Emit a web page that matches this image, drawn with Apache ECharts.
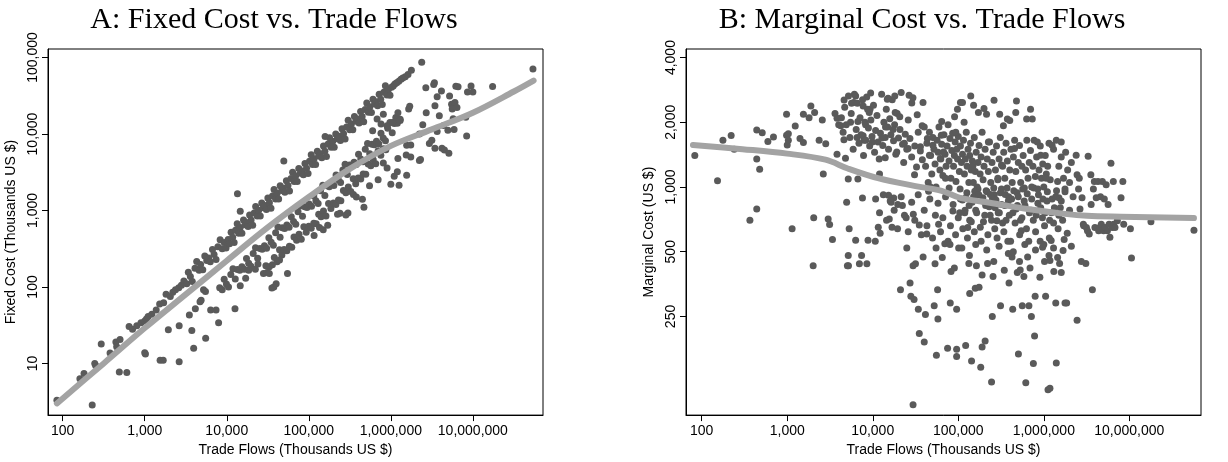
<!DOCTYPE html>
<html><head><meta charset="utf-8">
<script src="https://cdn.jsdelivr.net/npm/echarts@6/dist/echarts.min.js"></script>
<style>html,body{margin:0;padding:0;background:#fff}#c{width:1228px;height:462px}</style>
</head><body><div id="c"></div>
<script>
// ---------- tick labels ----------
const tradeTicks = [100, 1000, 10000, 100000, 1000000, 10000000];
const fixedTicks = [10, 100, 1000, 10000, 100000];
const marginalTicks = [250, 500, 1000, 2000, 4000];

// ---------- Panel A: fixed cost vs trade flows [trade, fixed cost] ----------
const fixedUpper = [
 [85,3.3],[162,6.3],[182,7.4],[246,10],[252,9.4],[295,17.9],[378,13.7],[445,19],[455,16.5],[500,20.5],[645,30.5],[710,28],[800,31],[900,34],
 [1000,36],[1050,38],[1100,41],[1220,44],[1380,50],[1520,60],[1700,62],[1820,80],[2050,75],[2200,85],[2370,92],[2600,98],[2800,105],
 [3000,120],[3250,110],[3400,156],[3600,137],[3800,118],[4100,176],[4300,215],[4600,166],[4800,197],[5100,168],[5400,254],[5700,222],[6000,240],[6300,214],[6700,308],[7000,266],[7400,229],[7800,335],[8300,415],[8800,317],[9300,381],[9800,323],
 [10400,416],[10800,367],[11300,520],[11800,448],[12300,381],[12800,550],[13400,670],[14000,504],[14600,599],[15300,505],[16000,752],[16700,651],[17400,696],[18200,619],[19000,874],[19800,752],[20700,642],[21600,929],[22500,1125],[23500,846],[24500,1005],[25600,845],[26700,1255],[27900,1088],[29100,1164],[30400,1034],[31700,1458],[33100,1258],[34600,1073],[36100,1552],[37700,1885],[39400,1418],[41100,1685],[42900,1416],[44800,2106],[46800,1825],[48900,1956],[51100,1737],[53300,2452],[55700,2117],[58200,1804],[60800,2614],[63500,3175],[66300,2387],[69200,2837],[72300,2386],[75500,3549],[78900,3077],[82400,3296],[86000,2924],[89800,4131],[93800,3564],[98000,3038],
 [102000,4390],[107000,5350],[111000,4000],[116000,4760],[121000,3990],[127000,5970],[132000,5150],[138000,5520],[144000,4900],[151000,6950],[157000,5970],[164000,5080],[172000,7400],[179000,8950],[187000,6730],[196000,8040],[204000,6730],[213000,10000],[223000,8700],[233000,9320],[243000,8260],[254000,11700],[265000,10100],[277000,8590],[289000,12400],[302000,15100],[316000,11400],[330000,13500],[344000,11400],[360000,16900],[376000,14700],[392000,15700],[410000,13900],[428000,19700],[447000,17000],[467000,14500],[487000,20900],[509000,25500],[532000,19200],[555000,22800],[580000,19100],[606000,28500],[633000,24700],[661000,26400],[690000,23500],[721000,33200],[753000,28600],[786000,24400],[821000,35300],[858000,42900],[896000,32300],[936000,38400],[977000,32200],
 [1.02e6,41000],[1.07e6,42500],[1.12e6,45000],[1.18e6,47000],[1.25e6,49000],[1.33e6,52000],[1.4e6,54000],[1.5e6,56000],[1.62e6,60000],[1.78e6,68000],[2.38e6,87000],
 [13500,1660],[14600,980],[49600,4450],[158000,9300]
];
const fixedMid = [
 [8200,98],[8800,92],[9300,126],[9900,109],[10500,100],[11200,146],[11900,173],[12700,127],[13500,169],[14400,166],
 [15300,184],[16300,171],[17400,235],[18500,204],[19700,187],[21000,273],[22400,325],[23800,238],[25400,318],[27000,311],
 [28800,346],[30600,321],[32600,440],[34800,383],[37000,352],[39400,512],[42000,609],[44700,447],[47600,595],[50700,583],
 [54000,648],[57500,604],[61200,826],[65200,717],[69400,659],[73900,961],[78700,1141],[83800,838],[89300,1116],[95100,1094],
 [101000,1212],[108000,1134],[115000,1553],[122000,1342],[130000,1235],[139000,1807],[148000,2146],[157000,1570],[168000,2100],[178000,2047],
 [190000,2280],[202000,2121],[215000,2903],[229000,2519],[244000,2318],[260000,3380],[277000,4017],[295000,2950],[314000,3925],[334000,3841],
 [356000,4272],[379000,3980],[404000,5454],[430000,4730],[458000,4351],[488000,6344],[520000,7540],[553000,5530],[589000,7363],[628000,7222],
 [668000,8016],[712000,7476],[758000,10233],[807000,8877],[860000,8170],[916000,11908],[975000,14138],[1.04e6,10400],[1.1e6,13750],[1.2e6,13800],[1.3e6,15600]
];
const fixedLow = [
 [28000,150],[31000,154],[33000,184],[36000,195],[38000,242],[41000,213],[44000,306],[47000,262],[50000,310],[54000,297],
 [58000,340],[62000,330],[66000,449],[71000,409],[76000,490],[81000,421],[87000,612],[93000,520],[100000,620],[107000,585],
 [115000,680],[123000,669],[132000,891],[141000,827],[151000,985],[162000,850],[174000,1236],[186000,1058],[200000,1250],[214000,1197],
 [230000,1370],[246000,1346],[264000,1829],[283000,1700],[303000,2024],[325000,1768],[348000,2592],[373000,2236],[400000,2657],[430000,2574],
 [460000,3000],[495000,2974],[530000,4048],[570000,3848],[610000,4620],[655000,4080],[700000,6060],[755000,5290],[810000,6405],[870000,6210]
];
const fixedScatter = [
 [229,2.85],[490,7.7],[605,7.6],[1000,13.8],[1020,13.3],[1540,11],[1680,11],[1940,27.5],[2630,10.5],[2630,31],[3500,43],[3750,27],[3950,15.8],[4140,52],[4720,64],[4870,67],[5530,21.4],[5210,92],[5500,87],[6360,50],[7400,50],[7950,34],[12600,52],[14600,104],
 [17000,130],[18500,165],[22300,170],[24000,200],[30000,190],[33000,150],[35500,97],[37500,100],[40000,110],[44000,225],[55000,150],
 [116000,470],[135000,600],[150000,560],[170000,640],[224000,890],[240000,920],[283000,875],[300000,930],[350000,1620],[380000,1500],[450000,1400],[470000,1100],[550000,2100],[700000,2530],[810000,4170],[900000,3600],[1.0e6,2200],[1.1e6,2800],[1.2e6,3200],[1.26e6,2140],[1.22e6,4790],[1.54e6,5300],[1.56e6,2900],[1.56e6,7150],[1.65e6,21200],[1.7e6,23000],[1.75e6,7200],[1.75e6,5000],[2.23e6,10000],[2.23e6,4500],[2.3e6,4650],[2.45e6,13200],[2.7e6,19000],[2.67e6,40300],[2.95e6,7500],[3.16e6,8300],[3.33e6,44400],[3.4e6,46800],[3.45e6,23400],[3.45e6,6500],[3.67e6,30800],[3.67e6,10800],[3.9e6,17400],[4.14e6,36600],[4.2e6,6500],[4.4e6,12900],[4.5e6,6200],[4.96e6,11200],[5.1e6,5600],[5.2e6,31500],[5.5e6,24600],[5.6e6,21200],[5.75e6,15800],[5.9e6,11500],[6.05e6,25800],[6.2e6,42300],[6.4e6,22200],[6.6e6,41500],[8.2e6,16600],[8.4e6,9400],[8.6e6,35500],[9.5e6,42500],[1.0e7,35500],[1.74e7,41800],[5.4e7,70800],
 [600000,11000],[680000,15700],[760000,13500],[810000,18200],[900000,12800],[1.05e6,14200],[1.15e6,16500],[1.22e6,19000],[1.3e6,15000]
];
const fixedFit = [[85,3.0],[316,10],[1000,29],[3160,80],[10000,220],[31600,600],[100000,1500],[316000,3500],[1e6,7000],[3.16e6,11500],[1e7,19000],[3.16e7,36000],[5.5e7,50000]];

// ---------- Panel B: marginal cost vs trade flows [trade, marginal cost] ----------
const marginalLeft = [
 [83,1400],[153,1070],[177,1650],[221,1735],[240,1500],[366,700],[440,1840],[440,1350],[476,1210],[440,790],[510,1790],[594,1630],[690,1710],[982,2180],[982,1740],[1030,1770],[1000,1570],[1030,1650],[1140,640],[1240,1920],[1410,1680],[1545,1610],[1545,2180],[1800,2100],[1890,2380],[2040,720],[2010,430],[2090,2220],[2360,1650],[2570,2050],[2640,1150],[2820,1590],[3010,710],[3130,670],[3380,570],[3620,2200],[3820,1420],[3820,2090],[4000,1950],[4230,1930],[4620,2540],[4600,1660],[4800,1360],[4950,850],[5050,430],[5200,430],[5170,480],[5170,1090],[5300,640],[5500,2000],[5650,2450],[6000,2470],[6310,2650],[6310,565],[6550,1700],[6700,1090],[6700,2020],[6980,440],[7400,480],[7580,890],[7720,2380],[7720,1730],[7900,1650],[8250,1950],[8500,2620],[8540,440],[8800,565],[9100,2220],[9300,2300],[9450,2740],[9900,1620],[10700,560],[11600,650],
 [4300,2100],[4500,1800],[4700,2350],[4900,1950],[5200,2650],[5400,1700],[5600,2200],[5900,1500],[6100,2700],[6400,1850],[6600,2450],[6900,1600],[7100,2100],[7300,1750],[7600,2550],[7800,1400],[8100,2000],[8300,1650],[8700,2300],[8900,1880],[9200,1550],[9500,2050],[9800,1720]
];
const marginalCenter = [
 [10200,2400],[10500,1450],[10800,1830],[11200,2150],[11500,1620],[11900,1350],[12300,1780],[12700,2700],[13100,1560],[13500,2000],[14000,1700],[14400,2300],[14900,1900],[15300,1500],[15800,2080],[16300,1750],[16900,2550],[17500,1640],[18000,1950],[18600,1420],[19300,2200],[20000,1690],[20800,1850],[21500,2750],[22300,1580],[23000,1300],[24000,1760],[25000,1500],[26000,2050],[27200,1680],[28500,1380],[29500,2600],[31000,1550],[32500,1240],[34000,1800],[36000,1470],[38000,1340],
 [40000,1900],[41500,1250],[43000,1600],[44500,1050],[46000,1800],[47500,1400],[49000,1150],[50500,1700],[52000,1500],[53500,1280],[55000,1000],[56500,1650],[58000,1450],[59500,1900],[61000,1200],[62500,1350],[64000,1580],[66000,1130],[68000,1750],[70000,1420],[72000,1250],[74000,1550],
 [76000,1950],[78000,1320],[80000,1680],[82000,1100],[84000,1480],[86000,1780],[88000,1250],[90000,1400],[92000,1620],[94000,1060],[96000,1500],[98000,1350],[100000,1720],[103000,1180],[106000,1550],[109000,1300],[112000,1420],[115000,1650],[118000,1150],[121000,1350],[124000,1800],[127000,1250],[130000,1500],[133000,1050],[136000,1400],[139000,1600],[142000,1200],[146000,1320],[150000,1050],[154000,1700],[158000,1180],
 [162000,1450],[166000,1000],[170000,1300],[175000,1560],[180000,1150],[185000,1380],[190000,1800],[195000,1080],[200000,1250],[206000,1500],[212000,960],[218000,1350],[225000,1180],[232000,1620],[240000,1050],[248000,1300],[256000,1450],[264000,920],[272000,1200],[280000,1550],[290000,1080],[300000,1350],[310000,1700],[320000,980],[330000,1250],[340000,1450],[350000,1100],[362000,1600],[375000,1320],[388000,900],[400000,1200],[413000,1500],
 [427000,1050],[441000,1380],[456000,1650],[471000,1180],[487000,940],[503000,1300],[520000,1560],[537000,1050],[555000,1250],[574000,1400],[593000,990],[613000,1200],[633000,1650],[654000,1100],[676000,1300],[699000,1480],[722000,1000],[746000,1250],[771000,1650],[797000,1120],[824000,1380],[852000,980],[880000,1200],[910000,1550],[940000,1100],[972000,1280],[1.0e6,1000],[1.04e6,1400],[1.07e6,1150],[1.11e6,1250],[1.15e6,1600],[1.19e6,1080],
 [1.3e6,1500],[1.4e6,1650],[1.5e6,1250],[1.6e6,1380],[1.7e6,1100],[1.8e6,1450],[1.9e6,1200],[2.0e6,1050],[2.1e6,1300],
 [105000,980],[112000,870],[119000,760],[126000,940],[134000,820],[142000,690],[151000,900],[160000,780],[170000,980],[181000,650],[192000,860],[204000,740],[217000,950],[230000,810],[245000,700],[260000,990],[276000,870],[293000,760],[311000,940],[330000,680],[350000,820],[372000,990],[395000,740],[420000,880],[446000,960],[474000,790],[503000,900],[534000,700],[567000,980],[602000,820],[640000,930],[680000,760],[722000,880],[767000,990],[815000,740],[866000,920],[920000,800],[977000,880],[1.04e6,760],[1.1e6,950],[1.17e6,700],[1.25e6,880],[1.33e6,800],[1.41e6,960],[1.5e6,740],[1.6e6,860],[2.0e6,780],[2.2e6,900]
];
const marginalLower = [
 [12000,1150],[12200,610],[12800,1690],[14000,1370],[14100,1900],[14800,2560],[15100,2590],[15300,915],[15600,710],[16400,850],[16800,650],[17300,1850],[17600,890],[18100,2650],[18300,2220],[19100,1456],[19600,830],[20700,2120],[21100,333],[22200,820],[23400,1600],[24600,720],[25900,1510],[26600,2670],[27300,358],[27900,310],[28600,2460],[29600,430],[29800,747],[30400,300],[30800,1140],[31600,440],[33100,2170],[34100,270],[35000,208],[35000,665],[36100,1540],[37800,1930],[38800,473],[38700,2470],[40000,190],[41300,255],[42800,605],[43500,1680],[45000,956],[46000,1406],[47300,1000],[50500,1565],[52300,280],[53500,440],[55500,165],[57300,333],[57800,243],[58900,672],[61600,1358],[63300,1740],[64000,2020],[67300,1456],[69600,544],[70800,1100],[75000,178],[78200,990],[80600,289],[82300,405],[86500,774],[90500,2120],[93500,1800],[95700,176],[95700,163],[95700,270],[97800,2300],[101000,520],[104000,760],[106000,2470],[112000,2470],[117000,2000],[122000,891],[122000,183],[129000,649],[133000,441],[136000,320],[140000,2650],[143000,155],[148000,1250],[151000,2400],[156000,956],[158000,338],[163000,430],[172000,2220],[175000,342],[183000,145],[190000,180],[194000,891],[200000,2320],[206000,192],[214000,2180],[220000,441],[225000,1620],[237000,923],[245000,124],[250000,250],[255000,384],[262000,2530],[270000,801],[283000,696],[290000,1100],[305000,2180],[312000,280],[320000,1266],[337000,1930],[354000,923],[375000,2070],[385000,490],[392000,358],[400000,2040],[425000,473],[433000,270],[455000,1510],[470000,2220],[479000,2510],[490000,400],[505000,167],[530000,411],[545000,626],[560000,280],[585000,384],[616000,123],[630000,2070],[647000,473],[670000,280],[700000,2300],[716000,250],[733000,2070],[755000,151],[780000,203],[792000,310],[840000,1620],[920000,1406],[968000,525],[1.02e6,450],[1.05e6,310],[1.07e6,1100],[1.12e6,114],[1.18e6,455],[1.18e6,116],[1.22e6,564],[1.25e6,1565],[1.31e6,405],[1.38e6,289],[1.4e6,152],[1.45e6,1062],[1.5e6,891],[1.53e6,441],[1.6e6,400],[1.6e6,1620],[1.68e6,507],[1.73e6,570],[1.77e6,289],[1.77e6,980],[29600,97],
 [10800,880],[12000,760],[13300,920],[14500,700],[16000,860],[17800,780],[19500,640],[21500,900],[23500,740],[26000,620],[28500,850],[31000,700],[34000,920],[37000,600],[40000,780],[43000,660],[46500,880],[50000,580],[54000,740],[58000,840],[62000,620],[66000,720],[71000,900],[76000,560],[81000,660],[87000,830],[93000,600],[100000,720],[106000,880],[113000,640],[120000,780],[128000,580],[136000,700],[145000,850],[154000,620],[164000,760],[174000,920],[185000,560],[197000,690],[209000,820],[222000,600],[236000,740],[251000,880],[267000,640],[284000,580],[302000,760],[321000,830],[341000,620],[362000,700],[385000,860],[409000,560],[435000,760],[462000,680],[491000,820],[522000,600],[555000,720],[590000,860],[627000,640],[667000,560],[709000,780],[754000,700],[802000,620],[853000,840],[907000,560],[964000,720],[1.02e6,660],[1.09e6,860],[1.16e6,580],[1.23e6,760],[1.3e6,680],[1.38e6,900],[1.47e6,640],[1.56e6,800],[1.66e6,700],[1.77e6,950],[1.88e6,610],
 [110000,520],[135000,480],[160000,540],[190000,390],[215000,510],[260000,450],[300000,530],[345000,410],[380000,560],[440000,500],[520000,450],[600000,540],[690000,420],[800000,510],[900000,380],[1.0e6,540],[1.15e6,480],[1.3e6,520],[1.45e6,470],[2.1e6,530],[55000,520],[65000,470],[80000,540],[90000,420],[25000,520]
];
const marginalRight = [
 [2.39e6,1406],[2.45e6,1140],[2.55e6,980],[2.6e6,1100],[2.65e6,790],[2.8e6,891],[2.9e6,672],[2.93e6,660],[3.1e6,441],[3.15e6,649],[3.24e6,626],[3.3e6,1390],[3.4e6,605],[3.55e6,1140],[3.58e6,830],[3.7e6,333],[3.8e6,980],[3.9e6,1062],[3.96e6,649],[4.1e6,891],[4.3e6,1062],[4.38e6,626],[4.5e6,649],[4.6e6,900],[4.7e6,672],[4.84e6,1062],[5.0e6,626],[5.1e6,880],[5.2e6,649],[5.36e6,1026],[5.55e6,626],[5.65e6,830],[5.8e6,672],[5.93e6,584],[6.1e6,1290],[6.3e6,649],[6.5e6,1062],[6.55e6,672],[6.8e6,649],[7.25e6,696],[8.0e6,891],[8.4e6,1062],[8.6e6,672],[1.03e7,640],[1.06e7,467],[1.79e7,690],[5.7e7,630],[2.45e6,240],[2.75e6,450],[1.85e6,289]
];
const marginalFit = [[79,1570],[300,1500],[1000,1430],[2800,1340],[5100,1220],[11500,1100],[31600,1010],[64000,960],[105000,890],[234000,845],[645000,790],[1.77e6,750],[3.2e6,735],[8e6,728],[5.7e7,717]];

// ---------- chart ----------
const fmt = v => Math.round(v).toLocaleString('en-US');
const SANS = 'Liberation Sans';
const DOT = '#5a5a5a', FIT = '#a3a3a3';

function xAxisFor(gi, min, max) {
  return {
    type: 'log', logBase: 10, gridIndex: gi, min: min, max: max,
    axisLine: { show: true, onZero: false, lineStyle: { color: '#000', width: 1 } },
    axisTick: { show: true, length: 6, inside: false, lineStyle: { color: '#000', width: 1 }, customValues: tradeTicks },
    axisLabel: { customValues: tradeTicks, formatter: fmt, color: '#000', fontFamily: SANS, fontSize: 14, margin: 9 },
    splitLine: { show: false }, minorTick: { show: false },
    name: 'Trade Flows (Thousands US $)', nameLocation: 'middle', nameGap: 26,
    nameTextStyle: { color: '#000', fontFamily: SANS, fontSize: 14 }
  };
}
function yAxisFor(gi, min, max, ticks, name, gap) {
  return {
    type: 'log', logBase: 10, gridIndex: gi, min: min, max: max,
    axisLine: { show: true, onZero: false, lineStyle: { color: '#000', width: 1 } },
    axisTick: { show: true, length: 6, lineStyle: { color: '#000', width: 1 }, customValues: ticks },
    axisLabel: { customValues: ticks, formatter: fmt, rotate: 90, color: '#000', fontFamily: SANS, fontSize: 14, margin: 8 },
    splitLine: { show: false }, minorTick: { show: false },
    name: name, nameLocation: 'middle', nameGap: gap, nameRotate: 90,
    nameTextStyle: { color: '#000', fontFamily: SANS, fontSize: 14 }
  };
}
function dots(data, xi) {
  return { type: 'scatter', xAxisIndex: xi, yAxisIndex: xi, data: data, symbol: 'circle', symbolSize: 7,
           itemStyle: { color: DOT, opacity: 1 }, z: 2, silent: true };
}
function fit(data, xi) {
  return { type: 'line', xAxisIndex: xi, yAxisIndex: xi, data: data, showSymbol: false, symbol: 'none', smooth: 0.35,
           lineStyle: { color: FIT, width: 6, cap: 'round', join: 'round' }, z: 5, silent: true };
}

const chart = echarts.init(document.getElementById('c'), null, { renderer: 'canvas' });
chart.setOption({
  animation: false,
  backgroundColor: '#fff',
  graphic: [
    { type: 'text', x: 274, y: 20, style: { text: 'A: Fixed Cost vs. Trade Flows', font: '30px "Liberation Serif"', fill: '#000', textAlign: 'center', textVerticalAlign: 'middle', align: 'center', verticalAlign: 'middle' } },
    { type: 'text', x: 922, y: 20, style: { text: 'B: Marginal Cost vs. Trade Flows', font: '30px "Liberation Serif"', fill: '#000', textAlign: 'center', textVerticalAlign: 'middle', align: 'center', verticalAlign: 'middle' } }
  ],
  grid: [
    { left: 48, top: 49, width: 495, height: 371, show: true, borderColor: '#000', borderWidth: 1, backgroundColor: 'transparent' },
    { left: 686, top: 49, width: 515, height: 371, show: true, borderColor: '#000', borderWidth: 1, backgroundColor: 'transparent' }
  ],
  xAxis: [ xAxisFor(0, 66.2, 7.16e7), xAxisFor(1, 65.5, 6.89e7) ],
  yAxis: [
    yAxisFor(0, 2.11, 129400, fixedTicks, 'Fixed Cost (Thousands US $)', 30),
    yAxisFor(1, 86.9, 4386, marginalTicks, 'Marginal Cost (US $)', 30)
  ],
  series: [
    dots(fixedUpper, 0), dots(fixedMid, 0), dots(fixedLow, 0), dots(fixedScatter, 0), fit(fixedFit, 0),
    dots(marginalLeft, 1), dots(marginalCenter, 1), dots(marginalLower, 1), dots(marginalRight, 1), fit(marginalFit, 1)
  ]
});
</script>
</body></html>
